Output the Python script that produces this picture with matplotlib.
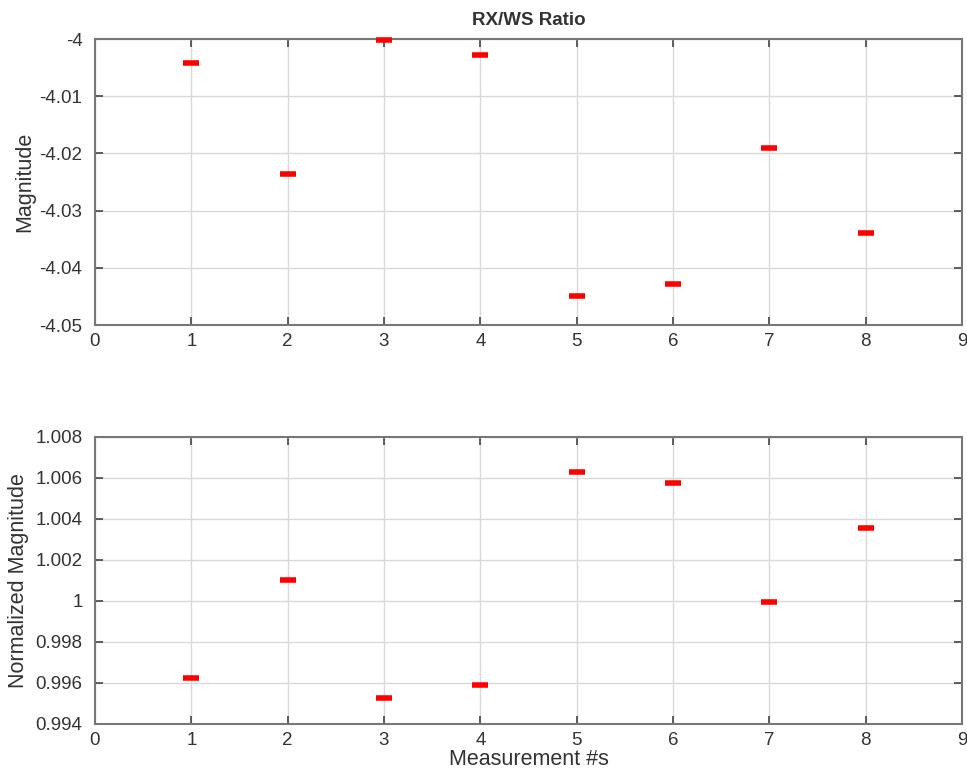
import matplotlib
matplotlib.use('Agg')
import matplotlib.pyplot as plt
from matplotlib.ticker import FuncFormatter

plt.rcParams['font.family'] = ['Liberation Sans', 'DejaVu Sans']
plt.rcParams['text.color'] = '#333333'
plt.rcParams['axes.labelcolor'] = '#333333'

measurements = [1, 2, 3, 4, 5, 6, 7, 8]
magnitude = [-4.0042, -4.0236, -4.0002, -4.0028, -4.0449, -4.0428, -4.0191, -4.0339]
norm_magnitude = [0.99624, 1.00102, 0.99527, 0.99590, 1.00629, 1.00576, 0.99995, 1.00356]

fig = plt.figure(figsize=(9.67, 7.74), dpi=100)
ax1 = fig.add_axes([95/967, 1-325/774, 867/967, 286/774])
ax2 = fig.add_axes([95/967, 1-724/774, 867/967, 287/774])

def fmt(v, pos):
    return '%g' % round(v, 6)

for ax, vals, ylab in [(ax1, magnitude, 'Magnitude'), (ax2, norm_magnitude, 'Normalized Magnitude')]:
    ax.plot(measurements, vals, linestyle='none', marker='_', color='red',
            markersize=12, markeredgewidth=4, clip_on=False, zorder=5)
    ax.set_xlim(0, 9)
    ax.set_xticks(range(0, 10))
    ax.grid(True, color='#d9d9d9', linewidth=1)
    ax.set_axisbelow(True)
    ax.tick_params(direction='in', length=6, width=1.2, color='#444444',
                   labelcolor='#333333', labelsize=13.5,
                   top=True, right=True, labeltop=False, labelright=False)
    ax.tick_params(axis='y', pad=9)
    ax.tick_params(axis='x', pad=6)
    for s in ax.spines.values():
        s.set_color('#777777')
        s.set_linewidth(1.5)
    ax.yaxis.set_major_formatter(FuncFormatter(fmt))
    ax.set_ylabel(ylab, fontsize=15.5)

ax1.set_ylim(-4.05, -4.0)
ax1.set_yticks([-4.05, -4.04, -4.03, -4.02, -4.01, -4.0])
ax1.set_title('RX/WS Ratio', fontsize=13.5, fontweight='bold', pad=10)
ax1.yaxis.set_label_coords(-60/867, 0.5)

ax2.set_ylim(0.994, 1.008)
ax2.set_yticks([0.994, 0.996, 0.998, 1.0, 1.002, 1.004, 1.006, 1.008])
ax2.set_xlabel('Measurement #s', fontsize=15.5, labelpad=0)
ax2.yaxis.set_label_coords(-66/867, 0.5)

plt.savefig('out.png', dpi=100)
